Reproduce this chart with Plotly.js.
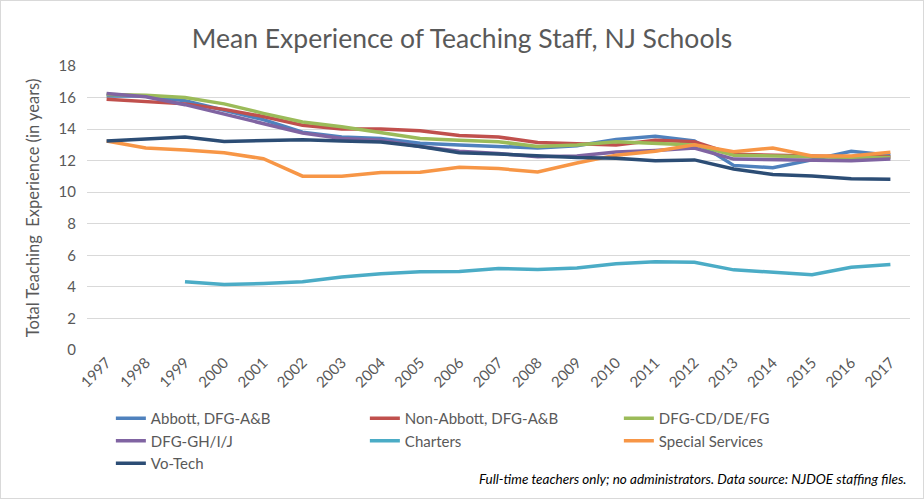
<!DOCTYPE html>
<html>
<head>
<meta charset="utf-8">
<script src="https://cdn.plot.ly/plotly-3.0.1.min.js"></script>
<style>
  body { margin: 0; background: #fff; }
  #chart { width: 922px; height: 497px; border: 1px solid #d9d9d9; }
</style>
</head>
<body>
<div id="chart"></div>
<script>
var years = [1997, 1998, 1999, 2000, 2001, 2002, 2003, 2004, 2005, 2006, 2007,
             2008, 2009, 2010, 2011, 2012, 2013, 2014, 2015, 2016, 2017];

var abbott     = [16.1, 16.1, 15.8, 15.2, 14.6, 13.8, 13.5, 13.4, 13.1, 13.0, 12.9,
                  12.8, 12.95, 13.35, 13.55, 13.25, 11.7, 11.55, 12.05, 12.6, 12.35];
var nonAbbott  = [15.9, 15.75, 15.6, 15.25, 14.8, 14.25, 14.0, 14.0, 13.9, 13.6, 13.5,
                  13.15, 13.1, 13.0, 13.3, 13.2, 12.4, 12.35, 12.25, 12.25, 12.25];
var dfgCD      = [16.2, 16.15, 16.0, 15.6, 15.0, 14.45, 14.15, 13.8, 13.4, 13.3, 13.2,
                  12.9, 13.0, 13.2, 13.1, 13.0, 12.35, 12.3, 12.2, 12.2, 12.2];
var dfgGH      = [16.25, 16.05, 15.55, 14.95, 14.3, 13.75, 13.4, 13.3, 12.9, 12.6, 12.45,
                  12.25, 12.3, 12.55, 12.65, 12.8, 12.1, 12.05, 12.05, 12.0, 12.1];
var charters   = [null, null, 4.33, 4.15, 4.22, 4.32, 4.62, 4.83, 4.96, 4.98, 5.17,
                  5.1, 5.2, 5.46, 5.6, 5.56, 5.08, 4.95, 4.77, 5.24, 5.42];
var specialSvc = [13.25, 12.8, 12.67, 12.5, 12.12, 11.02, 11.02, 11.25, 11.27, 11.58, 11.5,
                  11.28, 11.85, 12.35, 12.6, 13.0, 12.57, 12.8, 12.3, 12.3, 12.53];
var voTech     = [13.25, 13.4, 13.5, 13.22, 13.25, 13.33, 13.25, 13.18, 12.9, 12.5, 12.42,
                  12.3, 12.2, 12.15, 12.0, 12.05, 11.47, 11.13, 11.03, 10.85, 10.83];

var seriesNames  = ['Abbott, DFG-A&B', 'Non-Abbott, DFG-A&B', 'DFG-CD/DE/FG', 'DFG-GH/I/J',
                    'Charters', 'Special Services', 'Vo-Tech'];
var seriesValues = [abbott, nonAbbott, dfgCD, dfgGH, charters, specialSvc, voTech];
var seriesColors = ['#4F81BD', '#C0504D', '#9BBB59', '#8064A2', '#4BACC6', '#F79646', '#2C4D75'];

var yTicks = [0, 2, 4, 6, 8, 10, 12, 14, 16, 18];

var FONT = 'Lato, "Open Sans", sans-serif';
var GREY = '#595959';

var data = [];
for (var i = 0; i < seriesNames.length; i++) {
  data.push({
    x: years,
    y: seriesValues[i],
    name: seriesNames[i],
    type: 'scatter',
    mode: 'lines',
    line: { color: seriesColors[i], width: 3.5 },
    hoverinfo: 'x+y+name'
  });
}

var layout = {
  width: 922,
  height: 497,
  margin: { l: 86, r: 13, t: 65, b: 148, autoexpand: false },
  paper_bgcolor: '#fff',
  plot_bgcolor: '#fff',
  font: { family: FONT, color: GREY, size: 14 },
  title: {
    text: 'Mean Experience of Teaching Staff, NJ Schools',
    font: { family: FONT, size: 26.5, color: GREY },
    x: 0.5, xanchor: 'center',
    y: 0.925, yanchor: 'middle'
  },
  xaxis: {
    range: [1996.5, 2017.5],
    tickmode: 'array',
    tickvals: years,
    ticktext: years.map(String),
    tickangle: -45,
    tickfont: { family: FONT, size: 15, color: GREY },
    showgrid: false,
    zeroline: false,
    showline: false,
    ticks: ''
  },
  yaxis: {
    range: [0, 18],
    tickmode: 'array',
    tickvals: yTicks,
    tickfont: { family: FONT, size: 15, color: GREY },
    ticklabelstandoff: 10,
    gridcolor: '#d9d9d9',
    gridwidth: 1.3,
    zeroline: false,
    showline: false,
    ticks: '',
    title: {
      text: 'Total Teaching  Experience (in years)',
      font: { family: FONT, size: 16.5, color: GREY },
      standoff: 14
    }
  },
  legend: {
    orientation: 'h',
    x: 0.029, xanchor: 'left',
    y: -0.183, yanchor: 'top',
    entrywidth: 209,
    entrywidthmode: 'pixels',
    tracegroupgap: 0,
    font: { family: FONT, size: 15, color: GREY },
    bgcolor: 'rgba(0,0,0,0)'
  },
  annotations: [{
    text: 'Full-time teachers only; no administrators. Data source: NJDOE staffing files.',
    xref: 'paper', yref: 'paper',
    x: 0.998, y: -0.455,
    xanchor: 'right', yanchor: 'middle',
    showarrow: false,
    font: { family: FONT, size: 13.5, color: '#000', style: 'italic' }
  }],
  showlegend: true,
  hovermode: 'closest'
};

Plotly.newPlot('chart', data, layout, { displayModeBar: false, responsive: false });
</script>
</body>
</html>
